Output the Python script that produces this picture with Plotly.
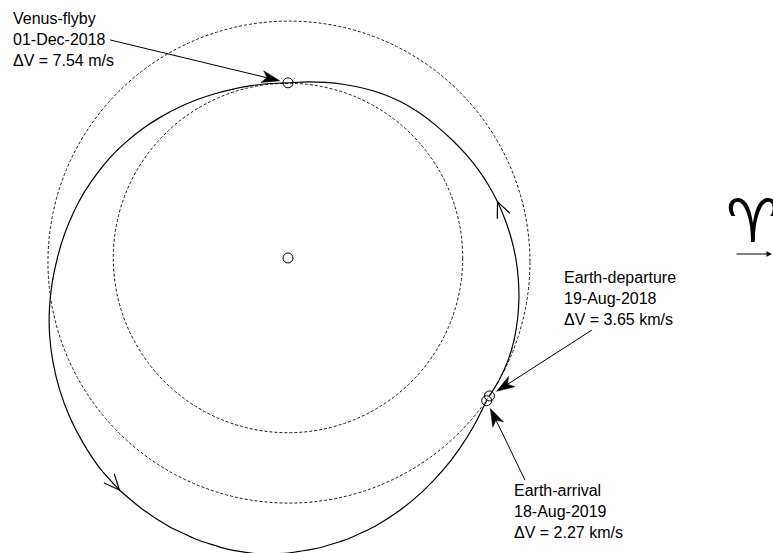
import math
import plotly.graph_objects as go

# ---------------------------------------------------------------------------
# Heliocentric ecliptic frame: longitude in degrees from the vernal equinox,
# radius in AU.
# ---------------------------------------------------------------------------

# Transfer trajectory: Earth departure -> Venus flyby -> Earth arrival
TRAJ_LON = [-34.4, -30, -25, -20, -15, -10, -5, 0, 5, 10, 15, 20, 25, 30, 36, 42, 48,
            54, 60, 66, 72, 78, 84, 90,
            96, 102, 108, 114, 120, 126, 132, 138, 144, 150, 156, 162, 168, 174, 180,
            186, 192, 198, 204, 210, 216, 222, 228, 234, 240, 246, 252, 258, 264, 270,
            276, 282, 288, 294, 300, 306, 312, 318, 324.3]
TRAJ_R = [1.013, 1.012, 1.007, 0.998, 0.986, 0.973, 0.959, 0.945, 0.930, 0.915, 0.900,
          0.885, 0.870, 0.855, 0.838, 0.824, 0.812, 0.800, 0.786, 0.771, 0.757, 0.745,
          0.735, 0.727,
          0.728, 0.731, 0.737, 0.746, 0.758, 0.772, 0.788, 0.806, 0.825, 0.846, 0.866,
          0.888, 0.910, 0.933, 0.957, 0.984, 1.012, 1.040, 1.067, 1.094, 1.120, 1.145,
          1.170, 1.190, 1.205, 1.218, 1.228, 1.234, 1.234, 1.224, 1.210, 1.192, 1.170,
          1.145, 1.118, 1.091, 1.064, 1.039, 1.015]

# Longitudes along the trajectory that carry a direction-of-motion arrowhead
DIRECTION_LON = [15, 234]

# Mission events
EVENT_NAMES = ["Earth-departure", "Venus-flyby", "Earth-arrival"]
EVENT_DATES = ["19-Aug-2018", "01-Dec-2018", "18-Aug-2019"]
EVENT_DV = ["3.65 km/s", "7.54 m/s", "2.27 km/s"]
EVENT_LON = [-34.4, 90.0, 324.3]
EVENT_R = [1.013, 0.727, 1.015]

# Planetary orbits: (semi-major axis, centre x, centre y) in AU
EARTH_ORBIT = (1.000, 0.004, -0.017)
VENUS_ORBIT = (0.725, 0.000, 0.000)


def to_xy(lon_deg, r):
    t = math.radians(lon_deg)
    return r * math.cos(t), r * math.sin(t)


traj = [to_xy(l, r) for l, r in zip(TRAJ_LON, TRAJ_R)]
traj_x = [p[0] for p in traj]
traj_y = [p[1] for p in traj]
events = [to_xy(l, r) for l, r in zip(EVENT_LON, EVENT_R)]

# ---------------------------------------------------------------------------
# Layout constants
# ---------------------------------------------------------------------------
W, H = 773, 553
PX = 241.0                        # pixels per AU
SUN_PX = (288.0, 258.0)           # Sun position on the page
X_RANGE = [-SUN_PX[0] / PX, (W - SUN_PX[0]) / PX]
Y_RANGE = [-(H - SUN_PX[1]) / PX, SUN_PX[1] / PX]

FONT = dict(family="Liberation Sans, Arial, sans-serif", size=16, color="black")

# label text anchor (left edge, centre of middle line) and leader-line tail, in AU
LABEL_POS = {"Earth-departure": (1.135, -0.170),
             "Venus-flyby": (-1.148, 0.907),
             "Earth-arrival": (0.928, -1.052)}
LEADER_TAIL = {"Earth-departure": (1.261, -0.299),
               "Venus-flyby": (-0.739, 0.905),
               "Earth-arrival": (0.983, -0.921)}
LEADER_GAP = 8.5 / PX             # gap between arrow tip and event marker

fig = go.Figure()

# orbits of Earth and Venus
for a, cx, cy in (EARTH_ORBIT, VENUS_ORBIT):
    fig.add_shape(type="circle", xref="x", yref="y",
                  x0=cx - a, x1=cx + a, y0=cy - a, y1=cy + a,
                  line=dict(color="black", width=0.9, dash="3px,2px"),
                  layer="below")

# trajectory
fig.add_trace(go.Scatter(x=traj_x, y=traj_y, mode="lines",
                         line=dict(color="black", width=1.2, shape="spline", smoothing=0.5),
                         hoverinfo="skip", showlegend=False))

# open "V" arrowheads showing the direction of motion
BARB = 17.0 / PX
HALF = math.radians(24)
for lon in DIRECTION_LON:
    i = TRAJ_LON.index(lon)
    tx, ty = traj_x[i], traj_y[i]
    bx, by = traj_x[i - 1] - tx, traj_y[i - 1] - ty
    ang = math.atan2(by, bx)
    pts = [(tx + BARB * math.cos(ang + s * HALF), ty + BARB * math.sin(ang + s * HALF))
           for s in (1, -1)]
    fig.add_shape(type="path", xref="x", yref="y",
                  path=f"M{pts[0][0]},{pts[0][1]} L{tx},{ty} L{pts[1][0]},{pts[1][1]}",
                  line=dict(color="black", width=1.2))

# Sun and event markers
fig.add_trace(go.Scatter(x=[0.0] + [e[0] for e in events],
                         y=[0.0] + [e[1] for e in events], mode="markers",
                         marker=dict(symbol="circle-open", size=10,
                                     color="black", line=dict(width=1)),
                         hoverinfo="skip", showlegend=False))

# leader arrows with stealth heads, and event labels
HEAD_L, HEAD_W, NOTCH = 18.0 / PX, 6.0 / PX, 5.0 / PX
for name, date, dv, (ex, ey) in zip(EVENT_NAMES, EVENT_DATES, EVENT_DV, events):
    tx0, ty0 = LEADER_TAIL[name]
    dx, dy = ex - tx0, ey - ty0
    dist = math.hypot(dx, dy)
    ux, uy = dx / dist, dy / dist
    px_, py_ = -uy, ux
    tipx, tipy = ex - ux * LEADER_GAP, ey - uy * LEADER_GAP
    notch = (tipx - ux * (HEAD_L - NOTCH), tipy - uy * (HEAD_L - NOTCH))
    fig.add_shape(type="line", xref="x", yref="y", x0=tx0, y0=ty0, x1=notch[0], y1=notch[1],
                  line=dict(color="black", width=1))
    b1 = (tipx - ux * HEAD_L + px_ * HEAD_W, tipy - uy * HEAD_L + py_ * HEAD_W)
    b2 = (tipx - ux * HEAD_L - px_ * HEAD_W, tipy - uy * HEAD_L - py_ * HEAD_W)
    fig.add_shape(type="path", xref="x", yref="y",
                  path=(f"M{tipx},{tipy} L{b1[0]},{b1[1]} L{notch[0]},{notch[1]} "
                        f"L{b2[0]},{b2[1]} Z"),
                  fillcolor="black", line=dict(color="black", width=0.5))
    lx, ly = LABEL_POS[name]
    fig.add_annotation(x=lx, y=ly, xref="x", yref="y", xanchor="left", yanchor="middle",
                       align="left", showarrow=False, font=FONT,
                       text=f"{name}<br>{date}<br>\u0394V = {dv}")

# vernal equinox (First Point of Aries) direction
fig.add_annotation(x=1.929, y=0.154, xref="x", yref="y", text="\u2648", showarrow=False,
                   font=dict(family="DejaVu Sans", size=60, color="black", weight="bold"),
                   xanchor="center", yanchor="middle")
fig.add_annotation(x=2.008, y=0.0166, ax=1.855, ay=0.0166, xref="x", yref="y",
                   axref="x", ayref="y", text="", showarrow=True,
                   arrowhead=2, arrowsize=0.9, arrowwidth=1.2, arrowcolor="black")

fig.update_xaxes(range=X_RANGE, visible=False, showgrid=False, zeroline=False)
fig.update_yaxes(range=Y_RANGE, visible=False, showgrid=False, zeroline=False)
fig.update_layout(width=W, height=H, autosize=False,
                  margin=dict(l=0, r=0, t=0, b=0, pad=0),
                  paper_bgcolor="white", plot_bgcolor="white",
                  showlegend=False)

fig.write_html("out.html")
